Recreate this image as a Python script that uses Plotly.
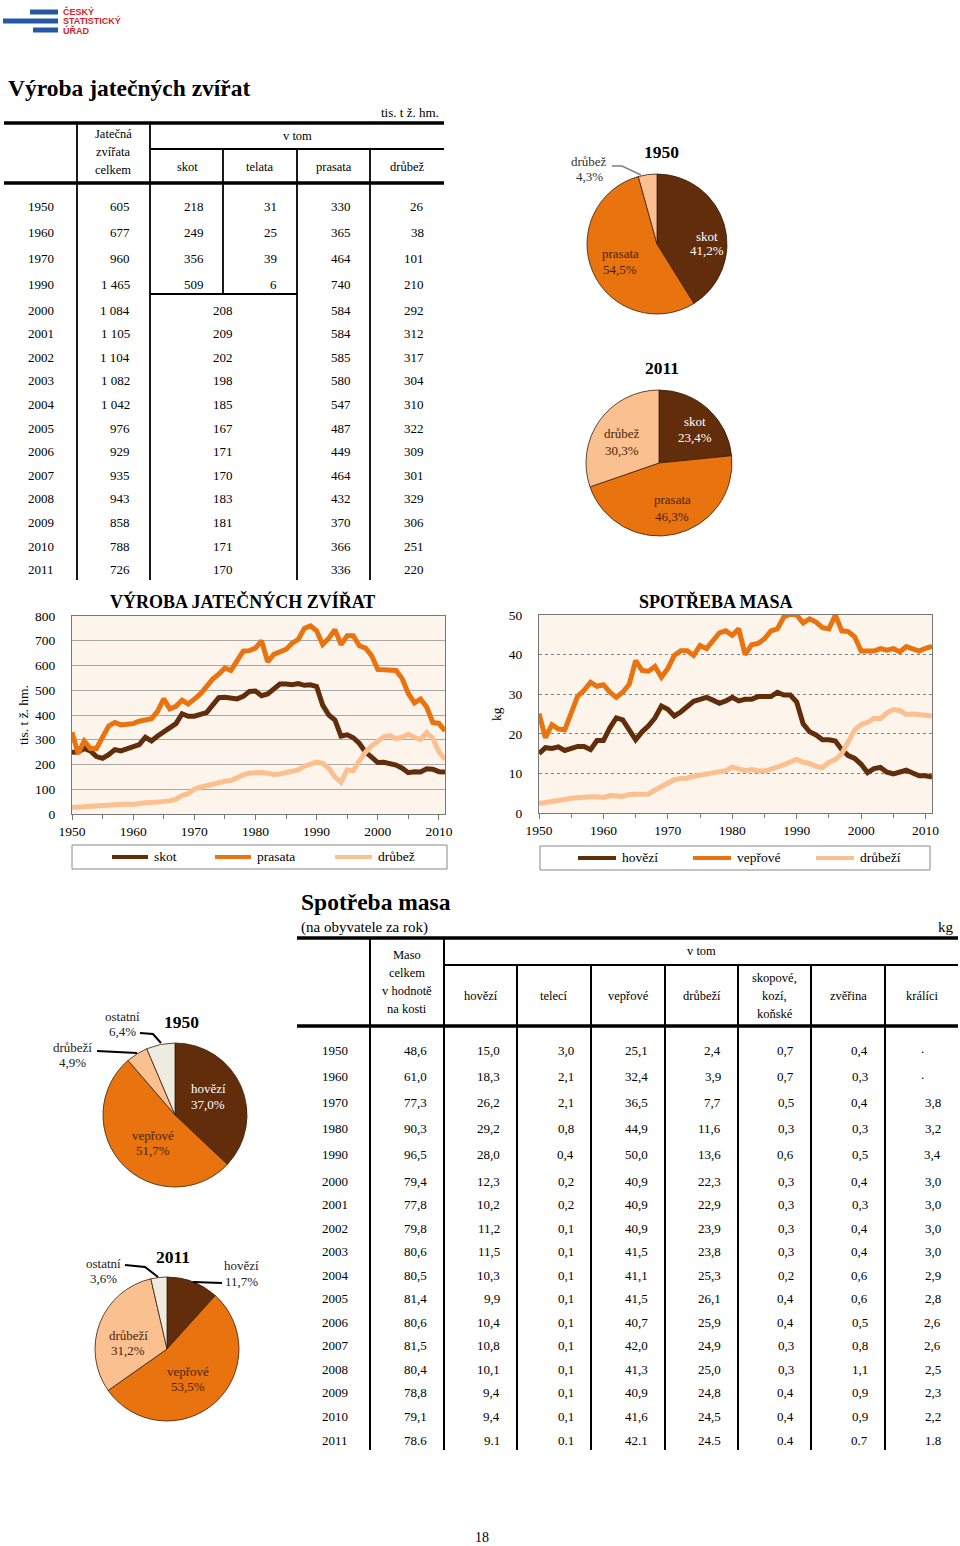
import plotly.graph_objects as go

W, H = 960, 1546
def X(px): return px / W
def Y(py): return 1 - py / H

SERIF = "Liberation Serif, Times New Roman, serif"
SANS = "Liberation Sans, Arial, sans-serif"
DARK = "#612D0B"
ORANGE = "#E8730F"
LIGHT = "#FAC090"
BEIGE = "#EEEBE0"
PLOTBG = "#FDF4EC"
TXTDARK = "#4B2407"

# ---------------- DATA ----------------
years = list(range(1950, 2012))

prod_skot = [249, 250, 265, 255, 232, 225, 240, 260, 255, 262,
             274, 280, 310, 295, 315, 330, 345, 365, 405, 395,
             395, 405, 410, 440, 470, 472, 470, 465, 475, 495,
             497, 478, 485, 505, 525, 525, 522, 527, 520, 522,
             515, 440, 400, 380, 315, 320, 308, 285, 250, 230,
             208, 209, 202, 198, 185, 167, 171, 170, 183, 181, 171, 170]
prod_prasata = [330, 245, 295, 265, 265, 310, 355, 370, 360, 363,
                365, 375, 378, 385, 415, 465, 425, 435, 460, 445,
                464, 485, 515, 545, 565, 590, 580, 620, 658, 660,
                670, 700, 615, 645, 655, 665, 690, 705, 750, 760,
                740, 685, 710, 745, 685, 720, 720, 680, 670, 640,
                584, 584, 585, 580, 547, 487, 449, 464, 432, 370, 366, 336]
prod_drubez = [26, 28, 25, 28, 32, 33, 36, 40, 40, 40,
               38, 44, 45, 46, 48, 52, 53, 60, 75, 82,
               101, 108, 115, 123, 128, 132, 135, 148, 158, 165,
               168, 168, 165, 160, 162, 166, 170, 178, 193, 200,
               210, 205, 185, 150, 128, 178, 175, 215, 250, 275,
               292, 312, 317, 304, 310, 322, 309, 301, 329, 306, 251, 220]

cons_hovezi = [15.0, 16.5, 16.3, 16.7, 15.8, 16.2, 16.8, 16.8, 16.0, 18.3,
               18.3, 21.5, 24.0, 23.5, 21.0, 18.5, 20.5, 22.0, 24.0, 27.0,
               26.2, 24.5, 25.5, 27.0, 28.2, 28.7, 29.2, 28.5, 27.7, 28.3,
               29.2, 28.3, 28.7, 28.7, 29.4, 29.4, 29.4, 30.5, 29.8, 29.8,
               28.0, 22.5, 20.5, 19.7, 18.5, 18.5, 18.2, 16.0, 14.5, 13.8,
               12.3, 10.2, 11.2, 11.5, 10.3, 9.9, 10.4, 10.8, 10.1, 9.4, 9.4, 9.1]
cons_veprove = [25.1, 19.0, 22.3, 21.2, 21.0, 25.5, 29.5, 31.0, 33.0, 32.0,
                32.4, 30.5, 29.2, 30.5, 32.5, 38.5, 36.0, 35.8, 37.0, 34.3,
                36.5, 39.8, 41.0, 41.0, 39.8, 42.3, 41.5, 43.5, 45.5, 46.0,
                44.9, 46.5, 40.0, 42.5, 42.8, 44.0, 46.0, 46.5, 49.5, 50.2,
                50.0, 48.0, 49.0, 48.2, 46.8, 46.5, 50.0, 46.0, 45.8, 44.5,
                40.9, 40.9, 40.9, 41.5, 41.1, 41.5, 40.7, 42.0, 41.3, 40.9, 41.6, 42.1]
cons_drubezi = [2.4, 2.6, 2.7, 2.9, 3.4, 3.7, 3.9, 4.1, 4.1, 4.1,
                3.9, 4.4, 4.4, 4.2, 4.7, 4.8, 4.9, 4.8, 5.8, 6.6,
                7.7, 8.4, 8.7, 8.8, 9.3, 9.6, 9.8, 10.0, 10.4, 10.7,
                11.6, 11.0, 10.7, 11.0, 10.6, 10.6, 11.0, 11.6, 12.2, 13.0,
                13.6, 12.8, 12.5, 11.8, 11.5, 12.8, 13.5, 15.0, 18.0, 21.0,
                22.3, 22.9, 23.9, 23.8, 25.3, 26.1, 25.9, 24.9, 25.0, 24.8, 24.5, 24.5]

# table 1 (tis. t ž. hm.)
t1_years = ["1950", "1960", "1970", "1990", "2000", "2001", "2002", "2003", "2004",
            "2005", "2006", "2007", "2008", "2009", "2010", "2011"]
t1_celkem = ["605", "677", "960", "1 465", "1 084", "1 105", "1 104", "1 082", "1 042",
             "976", "929", "935", "943", "858", "788", "726"]
t1_skot = ["218", "249", "356", "509", "208", "209", "202", "198", "185",
           "167", "171", "170", "183", "181", "171", "170"]
t1_telata = ["31", "25", "39", "6"]
t1_prasata = ["330", "365", "464", "740", "584", "584", "585", "580", "547",
              "487", "449", "464", "432", "370", "366", "336"]
t1_drubez = ["26", "38", "101", "210", "292", "312", "317", "304", "310",
             "322", "309", "301", "329", "306", "251", "220"]

# table 2 (kg)
t2_years = ["1950", "1960", "1970", "1980", "1990", "2000", "2001", "2002", "2003",
            "2004", "2005", "2006", "2007", "2008", "2009", "2010", "2011"]
t2_maso = ["48,6", "61,0", "77,3", "90,3", "96,5", "79,4", "77,8", "79,8", "80,6",
           "80,5", "81,4", "80,6", "81,5", "80,4", "78,8", "79,1", "78.6"]
t2_hovezi = ["15,0", "18,3", "26,2", "29,2", "28,0", "12,3", "10,2", "11,2", "11,5",
             "10,3", "9,9", "10,4", "10,8", "10,1", "9,4", "9,4", "9.1"]
t2_teleci = ["3,0", "2,1", "2,1", "0,8", "0,4", "0,2", "0,2", "0,1", "0,1",
             "0,1", "0,1", "0,1", "0,1", "0,1", "0,1", "0,1", "0.1"]
t2_veprove = ["25,1", "32,4", "36,5", "44,9", "50,0", "40,9", "40,9", "40,9", "41,5",
              "41,1", "41,5", "40,7", "42,0", "41,3", "40,9", "41,6", "42.1"]
t2_drubezi = ["2,4", "3,9", "7,7", "11,6", "13,6", "22,3", "22,9", "23,9", "23,8",
              "25,3", "26,1", "25,9", "24,9", "25,0", "24,8", "24,5", "24.5"]
t2_skopove = ["0,7", "0,7", "0,5", "0,3", "0,6", "0,3", "0,3", "0,3", "0,3",
              "0,2", "0,4", "0,4", "0,3", "0,3", "0,4", "0,4", "0.4"]
t2_zverina = ["0,4", "0,3", "0,4", "0,3", "0,5", "0,4", "0,3", "0,4", "0,4",
              "0,6", "0,6", "0,5", "0,8", "1,1", "0,9", "0,9", "0.7"]
t2_kralici = [".", ".", "3,8", "3,2", "3,4", "3,0", "3,0", "3,0", "3,0",
              "2,9", "2,8", "2,6", "2,6", "2,5", "2,3", "2,2", "1.8"]

# pies
pie_prod_labels = ["skot", "prasata", "drůbež"]
pie_prod_1950 = [249, 330, 26]
pie_prod_2011 = [170, 336, 220]
pie_cons_labels = ["hovězí", "vepřové", "drůbeží", "ostatní"]
pie_cons_1950 = [37.0, 51.6, 4.9, 6.4]
pie_cons_2011 = [11.7, 53.6, 31.2, 3.6]

# ---------------- FIGURE ----------------
fig = go.Figure()

def txt(x, y, s, size=13, color="black", anchor="center", family=SERIF, angle=0):
    fig.add_annotation(x=X(x), y=Y(y), xref="paper", yref="paper", text=s, showarrow=False,
                       xanchor=anchor, yanchor="middle", textangle=angle,
                       font=dict(size=size, color=color, family=family))

def line(x0, y0, x1, y1, w=1.5, color="black"):
    fig.add_shape(type="line", xref="paper", yref="paper", x0=X(x0), y0=Y(y0), x1=X(x1), y1=Y(y1),
                  line=dict(color=color, width=w))

def path(pts, w=1.5, color="black"):
    d = "M " + " L ".join(f"{X(a):.5f},{Y(b):.5f}" for a, b in pts)
    fig.add_shape(type="path", xref="paper", yref="paper", path=d, line=dict(color=color, width=w))

# logo
for (x0, x1, y0, y1) in [(30, 58, 9.5, 14.5), (3, 58, 18.5, 23.5), (33, 58, 27.5, 32.5)]:
    fig.add_shape(type="rect", xref="paper", yref="paper", x0=X(x0), x1=X(x1), y0=Y(y1), y1=Y(y0),
                  fillcolor="#2457A6", line=dict(width=0))
for i, s in enumerate(["ČESKÝ", "STATISTICKÝ", "ÚŘAD"]):
    txt(61, 12 + 9 * i, f"<b>{s}</b>", size=9, color="#D2232A", anchor="left", family=SANS)

# main title
txt(6, 88, "<b>Výroba jatečných zvířat</b>", size=23.5, anchor="left")

# ---- table 1 ----
txt(441, 113, "tis. t ž. hm.", size=13, anchor="right")
line(4, 123, 444, 123, 3.5)
line(4, 183, 444, 183, 3.5)
line(150, 149, 444, 149, 2)
txt(113, 134, "Jatečná", 12.5)
txt(113, 152, "zvířata", 12.5)
txt(113, 170, "celkem", 12.5)
txt(297, 136, "v tom", 12.5)
for cx, s in [(187, "skot"), (260, "telata"), (334, "prasata"), (407, "drůbež")]:
    txt(cx, 167, s, 12.5)
line(77, 123, 77, 580, 1.8)
line(150, 123, 150, 580, 1.8)
line(223, 149, 223, 294, 1.8)
line(297, 149, 297, 580, 1.8)
line(370, 149, 370, 580, 1.8)
line(150, 294, 297, 294, 1.8)
row1 = [206 + 26 * i for i in range(4)] + [310 + 23.6 * i for i in range(12)]
for i, y in enumerate(row1):
    txt(41, y, t1_years[i])
    txt(132, y, t1_celkem[i], anchor="right")
    if i < 4:
        txt(206, y, t1_skot[i], anchor="right")
        txt(279, y, t1_telata[i], anchor="right")
    else:
        txt(223, y, t1_skot[i])
    txt(353, y, t1_prasata[i], anchor="right")
    txt(426, y, t1_drubez[i], anchor="right")

# ---- pies ----
def pie(vals, labels, colors, cx, cy, r):
    fig.add_trace(go.Pie(values=vals, labels=labels, sort=False, direction="clockwise", rotation=0,
                         marker=dict(colors=colors, line=dict(color="#3B1D07", width=0.8)),
                         domain=dict(x=[X(cx - r), X(cx + r)], y=[Y(cy + r), Y(cy - r)]),
                         textinfo="none", showlegend=False, hoverinfo="label+percent",
                         automargin=False))

def pct(vals, i):
    return f"{100 * vals[i] / sum(vals):.1f}%".replace(".", ",")

pie(pie_prod_1950, pie_prod_labels, [DARK, ORANGE, LIGHT], 657, 244, 70)
txt(661, 152, "<b>1950</b>", 17.5)
txt(707, 236, pie_prod_labels[0], 13, "white")
txt(707, 251, pct(pie_prod_1950, 0), 13, "white")
txt(620, 254, pie_prod_labels[1], 13, TXTDARK)
txt(620, 269, pct(pie_prod_1950, 1), 13, TXTDARK)
txt(589, 162, pie_prod_labels[2], 13, "#333333")
txt(589, 177, pct(pie_prod_1950, 2), 13, "#333333")
path([(612, 166), (622, 166), (641, 175)], 1.5, "#808080")

pie(pie_prod_2011, pie_prod_labels, [DARK, ORANGE, LIGHT], 659, 463, 73)
txt(662, 368, "<b>2011</b>", 17.5)
txt(695, 421, pie_prod_labels[0], 13, "white")
txt(695, 437, pct(pie_prod_2011, 0), 13, "white")
txt(672, 500, pie_prod_labels[1], 13, TXTDARK)
txt(672, 516, pct(pie_prod_2011, 1), 13, TXTDARK)
txt(622, 434, pie_prod_labels[2], 13, TXTDARK)
txt(622, 450, pct(pie_prod_2011, 2), 13, TXTDARK)

cons_colors = [DARK, ORANGE, LIGHT, BEIGE]
pie(pie_cons_1950, pie_cons_labels, cons_colors, 175, 1115, 72)
txt(181, 1022, "<b>1950</b>", 17.5)
txt(208, 1088, pie_cons_labels[0], 13, "white")
txt(208, 1104, pct(pie_cons_1950, 0), 13, "white")
txt(153, 1135, pie_cons_labels[1], 13, TXTDARK)
txt(153, 1150, pct(pie_cons_1950, 1), 13, TXTDARK)
txt(72, 1047, pie_cons_labels[2], 13, "#222222")
txt(72, 1062, pct(pie_cons_1950, 2), 13, "#222222")
txt(122, 1016, pie_cons_labels[3], 13, "#222222")
txt(122, 1031, pct(pie_cons_1950, 3), 13, "#222222")
path([(97, 1051), (137, 1053)], 2)
path([(140, 1033), (153, 1034), (161, 1043)], 2)

pie(pie_cons_2011, pie_cons_labels, cons_colors, 167, 1349, 72)
txt(173, 1257, "<b>2011</b>", 17.5)
txt(241, 1265, pie_cons_labels[0], 13, "#222222")
txt(241, 1281, pct(pie_cons_2011, 0), 13, "#222222")
txt(188, 1371, pie_cons_labels[1], 13, TXTDARK)
txt(188, 1386, pct(pie_cons_2011, 1), 13, TXTDARK)
txt(128, 1335, pie_cons_labels[2], 13, TXTDARK)
txt(128, 1350, pct(pie_cons_2011, 2), 13, TXTDARK)
txt(103, 1263, pie_cons_labels[3], 13, "#222222")
txt(103, 1278, pct(pie_cons_2011, 3), 13, "#222222")
path([(125, 1265), (145, 1267), (158, 1277)], 2)
path([(193, 1282), (222, 1283)], 2)

# ---- line charts ----
for vals, col, nm in [(prod_skot, DARK, "skot"), (prod_prasata, ORANGE, "prasata"), (prod_drubez, LIGHT, "drůbež")]:
    fig.add_trace(go.Scatter(x=years, y=vals, mode="lines", name=nm, line=dict(color=col, width=5),
                             xaxis="x", yaxis="y", showlegend=False))
for vals, col, nm in [(cons_hovezi, DARK, "hovězí"), (cons_veprove, ORANGE, "vepřové"), (cons_drubezi, LIGHT, "drůbeží")]:
    fig.add_trace(go.Scatter(x=years, y=vals, mode="lines", name=nm, line=dict(color=col, width=5),
                             xaxis="x2", yaxis="y2", showlegend=False))

tickfont = dict(family=SERIF, size=13.5, color="black")
xcommon = dict(range=[1950, 2011], tickvals=[1950, 1960, 1970, 1980, 1990, 2000, 2010],
               ticks="outside", ticklen=5, tickcolor="#777", showline=True, linecolor="#777",
               mirror=True, showgrid=False, zeroline=False, tickfont=tickfont, automargin=False,
               minor=dict(tickvals=list(range(1955, 2011, 10)), ticks="outside", ticklen=4, tickcolor="#777"))
fig.update_layout(
    xaxis=dict(domain=[X(72), X(445)], anchor="y", **xcommon),
    yaxis=dict(domain=[Y(814), Y(616)], anchor="x", range=[0, 800], dtick=100, showgrid=True,
               gridcolor="#A8A8A8", gridwidth=1, showline=True, linecolor="#777", mirror=True,
               zeroline=False, tickfont=tickfont, ticks="", ticklabelstandoff=13, automargin=False),
    xaxis2=dict(domain=[X(539), X(932)], anchor="y2", **xcommon),
    yaxis2=dict(domain=[Y(813), Y(615)], anchor="x2", range=[0, 50], dtick=10, showgrid=True,
                gridcolor="#808080", gridwidth=1, griddash="dot", showline=True, linecolor="#777",
                mirror=True, zeroline=False, tickfont=tickfont, ticks="", ticklabelstandoff=13,
                automargin=False),
)

txt(242, 601, "<b>VÝROBA JATEČNÝCH ZVÍŘAT</b>", 18)
txt(716, 601, "<b>SPOTŘEBA MASA</b>", 18)
txt(24, 715, "tis. t ž. hm.", 13.5, angle=-90)
txt(497, 714, "kg", 13.5, angle=-90)

# legends (manual boxes)
def legend_box(x0, x1, y0, y1, items):
    fig.add_shape(type="rect", xref="paper", yref="paper", x0=X(x0), x1=X(x1), y0=Y(y1), y1=Y(y0),
                  line=dict(color="#888", width=1), fillcolor="rgba(0,0,0,0)")
    yc = (y0 + y1) / 2
    for lx0, lx1, col, label in items:
        line(lx0, yc, lx1, yc, 4, col)
        txt(lx1 + 4, yc, label, 13.5, anchor="left")

legend_box(72, 447, 845, 869, [(112, 148, DARK, "skot"), (215, 251, ORANGE, "prasata"), (335, 372, LIGHT, "drůbež")])
legend_box(540, 930, 846, 870, [(578, 616, DARK, "hovězí"), (693, 731, ORANGE, "vepřové"), (816, 854, LIGHT, "drůbeží")])

# ---- table 2 ----
txt(299, 902, "<b>Spotřeba masa</b>", 23.5, anchor="left")
txt(299, 927, "(na obyvatele za rok)", 15, anchor="left")
txt(956, 927, "kg", 15, anchor="right")
line(297, 938, 958, 938, 3.5)
line(297, 1026, 958, 1026, 3.5)
line(444, 965, 958, 965, 2)
for i, s in enumerate(["Maso", "celkem", "v hodnotě", "na kosti"]):
    txt(407, 955 + 18 * i, s, 12.5)
txt(701, 951, "v tom", 12.5)
col_x = [370, 444, 517, 591, 665, 738, 811, 885, 958]
heads = ["hovězí", "telecí", "vepřové", "drůbeží", None, "zvěřina", "králíci"]
for j, h in enumerate(heads):
    cxh = (col_x[j + 1] + col_x[j + 2]) / 2
    if h:
        txt(cxh, 996, h, 12.5)
    else:
        for k, s in enumerate(["skopové,", "kozí,", "koňské"]):
            txt(cxh, 978 + 18 * k, s, 12.5)
line(370, 938, 370, 1450, 2)
line(444, 938, 444, 1450, 2)
for xv in col_x[2:8]:
    line(xv, 965, xv, 1450, 2)
row2 = [1050 + 26 * i for i in range(5)] + [1181 + 23.55 * i for i in range(12)]
cols2 = [t2_maso, t2_hovezi, t2_teleci, t2_veprove, t2_drubezi, t2_skopove, t2_zverina, t2_kralici]
for i, y in enumerate(row2):
    txt(335, y, t2_years[i])
    for j, colv in enumerate(cols2):
        v = colv[i]
        if v == ".":
            txt((col_x[j] + col_x[j + 1]) / 2 + 0.5, y - 2, v)
        else:
            txt(col_x[j + 1] - 15, y, v, anchor="right")

# page number
txt(482, 1537, "18", 14)

fig.update_layout(width=W, height=H, margin=dict(l=0, r=0, t=0, b=0, pad=0, autoexpand=False),
                  paper_bgcolor="white", plot_bgcolor=PLOTBG, showlegend=False)
fig.write_html("out.html", config={"displayModeBar": False},
               post_script="document.body.style.margin='0';document.body.style.padding='0';"
                           "document.documentElement.style.overflow='hidden';")
